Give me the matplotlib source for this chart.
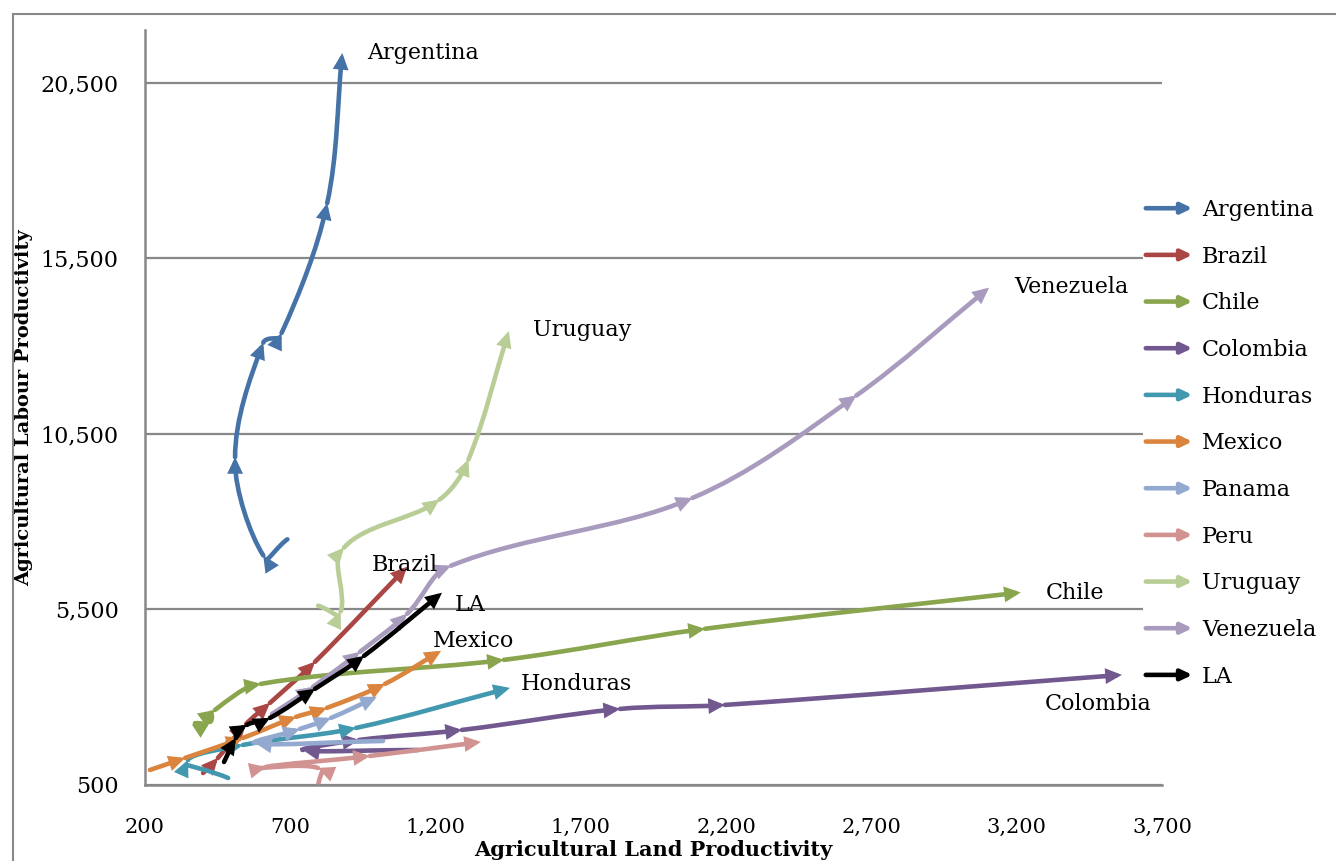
# Labour vs land productivity paths, Latin America
import matplotlib.pyplot as plt
import numpy as np
from matplotlib.path import Path
from matplotlib.patches import FancyArrowPatch, Rectangle
from matplotlib.legend_handler import HandlerPatch

plt.rcParams['font.family'] = ['DejaVu Serif']

# Data, x = land productivity, y = labour productivity
countries = ["Argentina", "Brazil", "Chile", "Colombia", "Honduras", "Mexico",
             "Panama", "Peru", "Uruguay", "Venezuela", "LA"]
colors = ["#4572A7", "#AA4643", "#89A54E", "#71588F", "#4198AF", "#DB843D",
          "#93A9CF", "#D19392", "#B9CD96", "#A99BBD", "#000000"]

arg_x = [690, 607, 510, 607, 670, 827, 879]
arg_y = [7487, 7028, 9829, 13090, 13365, 17065, 21344]
bra_x = [400, 451, 548, 630, 785, 1102]
bra_y = [828, 1256, 2226, 2825, 3995, 6705]
chl_x = [372, 424, 441, 599, 1435, 2127, 3214]
chl_y = [2246, 2283, 2626, 3367, 4052, 4937, 5972]
col_x = [1139, 744, 937, 1291, 1835, 2196, 3562]
col_y = [1484, 1484, 1770, 2055, 2654, 2768, 3624]
hon_x = [486, 348, 537, 926, 1456]
hon_y = [685, 1199, 1627, 2112, 3253]
mex_x = [217, 338, 537, 720, 826, 1026, 1219]
mex_y = [914, 1256, 1827, 2426, 2683, 3367, 4309]
pan_x = [1019, 579, 733, 840, 998]
pan_y = [1741, 1684, 2083, 2397, 2996]
per_x = [795, 795, 616, 974, 1356]
per_y = [400, 971, 999, 1313, 1713]
uru_x = [796, 873, 885, 1213, 1313, 1452]
uru_y = [5593, 5430, 7250, 8617, 9758, 13419]
ven_x = [637, 778, 940, 1102, 1253, 2084, 2648, 3105]
ven_y = [2511, 3282, 4280, 5364, 6734, 8665, 11584, 14657]
la_x = [472, 513, 551, 630, 785, 954, 1222]
la_y = [1142, 1827, 2198, 2397, 3225, 4166, 5964]

series_x = [arg_x, bra_x, chl_x, col_x, hon_x, mex_x, pan_x, per_x, uru_x, ven_x, la_x]
series_y = [arg_y, bra_y, chl_y, col_y, hon_y, mex_y, pan_y, per_y, uru_y, ven_y, la_y]

# where the end labels sit
label_xy = [(964, 21342), (982, 6762), (3300, 5964), (3297, 2797), (1494, 3367),
            (1191, 4594), None, None, (1535, 13439), (3190, 14666), (1267, 5621)]

LW = 3.3
STYLE = "-|>,head_length=6.5,head_width=3.1"

fig = plt.figure(figsize=(13.36, 8.61), dpi=100)
ax = fig.add_axes([145 / 1336, (861 - 784.5) / 861, (1162 - 145) / 1336, (784.5 - 30) / 861])
ax.set_xlim(200, 3700)
ax.set_ylim(500, 22000)


def smooth_paths(xs, ys):
    # smoothed line through the points, bezier segments with chord-scaled tangents
    d = ax.transData.transform(np.column_stack([xs, ys]).astype(float))
    n = len(d)
    seg_len = np.linalg.norm(np.diff(d, axis=0), axis=1)
    tang = []
    for i in range(n):
        a = d[max(i - 1, 0)]
        b = d[min(i + 1, n - 1)]
        l1 = seg_len[i - 1] if i > 0 else 0
        l2 = seg_len[i] if i < n - 1 else 0
        tang.append((b - a) / max(l1 + l2, 1e-9))
    inv = ax.transData.inverted()
    out = []
    for i in range(n - 1):
        L = seg_len[i]
        c1 = d[i] + tang[i] * L / 3
        c2 = d[i + 1] - tang[i + 1] * L / 3
        v = inv.transform(np.array([d[i], c1, c2, d[i + 1]]))
        out.append(Path(v, [Path.MOVETO, Path.CURVE4, Path.CURVE4, Path.CURVE4]))
    return out


handles = []
for name, c, xs, ys in zip(countries, colors, series_x, series_y):
    for seg in smooth_paths(xs, ys):
        a = FancyArrowPatch(path=seg, arrowstyle=STYLE, mutation_scale=1,
                            lw=LW, color=c, capstyle="round", joinstyle="miter")
        ax.add_patch(a)
    handles.append(FancyArrowPatch((0, 0), (1, 0), color=c, label=name))

for name, pos in zip(countries, label_xy):
    if pos is not None:
        ax.text(pos[0], pos[1], name, fontsize=16, ha="left", va="center")

ax.set_xticks(np.arange(200, 3701, 500))
ax.set_yticks(np.arange(500, 20501, 5000))
ax.xaxis.set_major_formatter(plt.FuncFormatter(lambda v, p: f"{int(v):,}"))
ax.yaxis.set_major_formatter(plt.FuncFormatter(lambda v, p: f"{int(v):,}"))
ax.tick_params(axis="y", length=0, pad=19, labelsize=16)
ax.tick_params(axis="x", length=0, pad=24, labelsize=15)
ax.grid(axis="y", color="#888888", lw=1.6)
ax.set_axisbelow(True)
for s in ["top", "right"]:
    ax.spines[s].set_visible(False)
for s in ["left", "bottom"]:
    ax.spines[s].set_color("#888888")
    ax.spines[s].set_linewidth(1.8)

ax.set_xlabel("Agricultural Land Productivity", fontsize=15, fontweight="bold", labelpad=2)
ax.set_ylabel("Agricultural Labour Productivity", fontsize=14, fontweight="bold")
ax.yaxis.set_label_coords(-0.110, 0.5)


class ArrowHandler(HandlerPatch):
    def create_artists(self, legend, orig_handle, xdescent, ydescent,
                       width, height, fontsize, trans):
        y = height / 2 - ydescent
        a = FancyArrowPatch((-xdescent, y), (width - xdescent, y), arrowstyle=STYLE,
                            mutation_scale=1, lw=LW, color=orig_handle.get_edgecolor(),
                            capstyle="round", transform=trans)
        return [a]


leg = ax.legend(handles=handles, handler_map={FancyArrowPatch: ArrowHandler()},
                loc="upper left", bbox_to_anchor=(1143 / 1336, 1 - 199 / 861),
                bbox_transform=fig.transFigure, frameon=True, fancybox=False,
                edgecolor="none", facecolor="white", framealpha=1,
                fontsize=16, handlelength=2.35, handletextpad=0.3,
                labelspacing=1.11, borderpad=0, borderaxespad=0)

fig.patches.append(Rectangle((13 / 1336, -0.1), 1.2, 1.1 - 14 / 861, transform=fig.transFigure,
                             fill=False, edgecolor="#888888", lw=1.5))

fig.savefig("out.png", dpi=100)
